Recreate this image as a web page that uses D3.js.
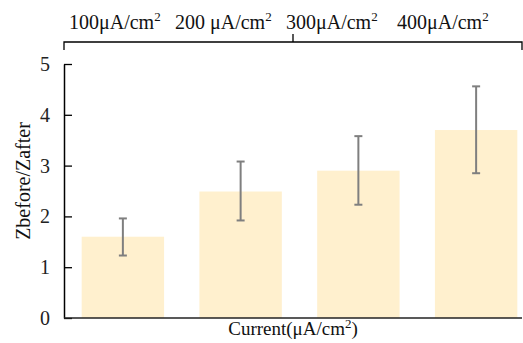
<!DOCTYPE html>
<html>
<head>
<meta charset="utf-8">
<script src="https://cdn.jsdelivr.net/npm/d3@7"></script>
<style>
    body { margin: 0; background: #fff; }
    text { font-family: "Liberation Serif", "Times New Roman", serif; }
</style>
</head>
<body>
<svg id="chart" width="523" height="343"></svg>
<script>
// data
let categories = ["100", "200", "300", "400"];
let means = [1.6, 2.49, 2.9, 3.7];
let errLow = [1.23, 1.92, 2.23, 2.85];
let errHigh = [1.96, 3.08, 3.58, 4.56];
let topLabels = ["100μA/cm", "200 μA/cm", "300μA/cm", "400μA/cm"];
let yTicks = [0, 1, 2, 3, 4, 5];

let svg = d3.select("#chart");
let plotLeft = 64, plotRight = 522, plotTop = 64, plotBottom = 318;

let xScale = d3.scaleBand()
    .domain(categories)
    .range([plotLeft, 535])
    .paddingInner(0.3)
    .paddingOuter(0.15);

let yScale = d3.scaleLinear().domain([0, 5]).range([plotBottom, plotTop]);

// bars
svg.append("g").selectAll("rect")
    .data(categories)
    .enter().append("rect")
    .attr("x", d => xScale(d))
    .attr("y", (d, i) => yScale(means[i]))
    .attr("width", xScale.bandwidth())
    .attr("height", (d, i) => plotBottom - yScale(means[i]))
    .style("fill", "#FFF0CE");

// error bars
let eb = svg.append("g")
    .attr("stroke", "#7f7f7f")
    .attr("stroke-width", 2);
categories.forEach(function (d, i) {
    let cx = xScale(d) + xScale.bandwidth() / 2;
    eb.append("line").attr("x1", cx).attr("x2", cx)
        .attr("y1", yScale(errLow[i])).attr("y2", yScale(errHigh[i]));
    [errLow[i], errHigh[i]].forEach(function (v) {
        eb.append("line").attr("x1", cx - 4).attr("x2", cx + 4)
            .attr("y1", yScale(v)).attr("y2", yScale(v));
    });
});

// y axis
let yAxis = d3.axisLeft(yScale).tickValues(yTicks).tickFormat(d3.format("d"))
    .tickSizeInner(-8).tickSizeOuter(0).tickPadding(14);
let yG = svg.append("g").attr("transform", "translate(" + plotLeft + ",0)").call(yAxis);
yG.select(".domain").attr("stroke", "#000").attr("stroke-width", 1.5);
yG.selectAll(".tick line").attr("stroke", "#000").attr("stroke-width", 1.3);
yG.selectAll("text").attr("font-size", 20).attr("fill", "#222")
    .style("font-family", "Liberation Serif");

// x axis line
svg.append("line")
    .attr("x1", plotLeft).attr("x2", plotRight)
    .attr("y1", plotBottom).attr("y2", plotBottom)
    .attr("stroke", "#222").attr("stroke-width", 1.5);

// top bracket
let by = 42;
svg.append("path")
    .attr("d", "M" + plotLeft + "," + (by + 8) + "V" + by + "H" + plotRight + "V" + (by + 8)
        + "M" + ((plotLeft + plotRight) / 2) + "," + by + "V" + (by - 8))
    .attr("fill", "none").attr("stroke", "#000").attr("stroke-width", 1.3);

let labelX = [69, 175, 286, 397];
let tl = svg.append("g").selectAll("text")
    .data(topLabels)
    .enter().append("text")
    .attr("x", (d, i) => labelX[i])
    .attr("y", 29)
    .attr("font-size", 20)
    .attr("fill", "#111");
tl.append("tspan").text(d => d);
tl.append("tspan").attr("font-size", 13).attr("dy", -8).text("2");

// axis titles
let xt = svg.append("text")
    .attr("x", (plotLeft + plotRight) / 2)
    .attr("y", 335)
    .attr("text-anchor", "middle")
    .attr("font-size", 19)
    .attr("fill", "#111");
xt.append("tspan").text("Current(μA/cm");
xt.append("tspan").attr("font-size", 13).attr("dy", -7).text("2");
xt.append("tspan").attr("dy", 7).text(")");

svg.append("text")
    .attr("transform", "translate(30," + 181 + ") rotate(-90)")
    .attr("text-anchor", "middle")
    .attr("font-size", 20)
    .attr("fill", "#111")
    .text("Zbefore/Zafter");
</script>
</body>
</html>
